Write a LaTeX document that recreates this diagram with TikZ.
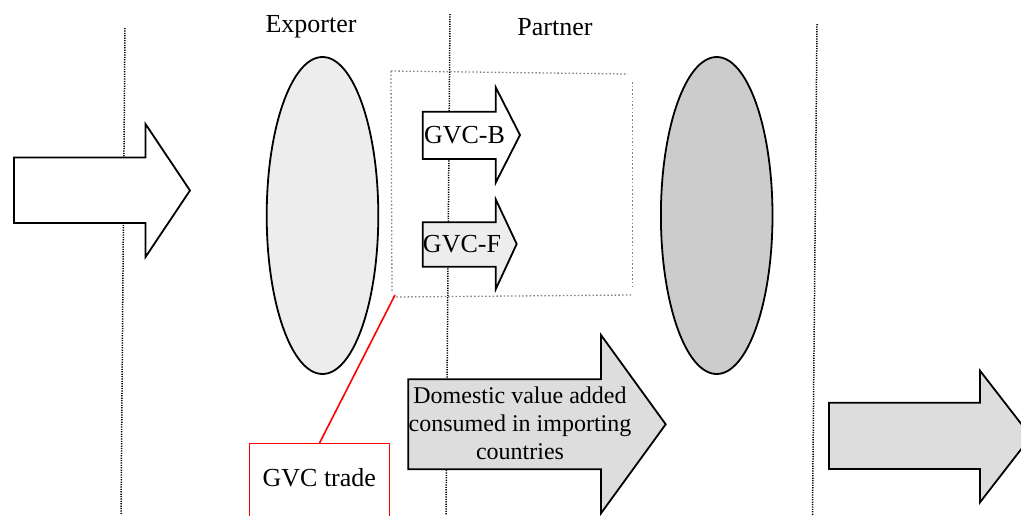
\documentclass[tikz,border=0pt]{standalone}
\usepackage{fontspec}
\setmainfont{Liberation Serif}
\usetikzlibrary{shapes.geometric}
\tikzset{
  sep/.style={line width=1.5pt, dash pattern=on 1.2pt off 1.2pt, black},
  arrowshape/.style={draw=black, line width=1.8pt, line join=miter},
  blob/.style={ellipse, draw=black, line width=1.8pt, inner sep=0pt, minimum width=111.6pt, minimum height=317pt},
  lbl/.style={font=\fontsize{26}{30}\selectfont, inner sep=0pt},
  small/.style={font=\fontsize{24}{28}\selectfont, inner sep=0pt, align=center},
  graybox/.style={gray, line width=1.3pt, dash pattern=on 1.5pt off 2.2pt},
  redframe/.style={draw=red, line width=1.6pt},
}
\definecolor{fillA}{HTML}{EDEDED}
\definecolor{fillB}{HTML}{CCCCCC}
\definecolor{fillC}{HTML}{DDDDDD}
\begin{document}
\begin{tikzpicture}[x=1pt,y=-1pt]
\useasboundingbox (0,0) rectangle (1021,515);
% separators
\draw[sep] (125,28) -- (121,515);
\draw[sep] (450,14) -- (446,515);
\draw[sep] (817,24) -- (812.5,515);
% labels
\node[lbl] (exporter) at (311,27) {Exporter};
\node[lbl] (partner) at (555,27) {Partner};
% left arrow
\draw[arrowshape, fill=white] (14,157.5) -- (145.5,157.5) -- (145.5,124) -- (190,190.5) -- (145.5,257) -- (145.5,223) -- (14,223) -- cycle;
% ellipses
\node[blob, fill=fillA] (exp) at (322.5,215.5) {};
\node[blob, fill=fillB] (par) at (716.7,215.5) {};
% dotted GVC box
\draw[graybox] (391,71) -- (628,74);
\draw[graybox] (632.5,82) -- (632.5,288);
\draw[graybox] (631,295) -- (393,297);
\draw[graybox] (391,71) -- (392,293);
\coordinate (boxcorner) at (395,295);
% GVC-B arrow
\draw[arrowshape, fill=white] (422.7,111.7) -- (495.7,111.7) -- (495.7,87.3) -- (520,135) -- (495.7,182.7) -- (495.7,159) -- (422.7,159) -- cycle;
\node[lbl] (gvcb) at (464.5,135) {GVC-B};
% GVC-F arrow
\draw[arrowshape, fill=fillA] (422.7,222.3) -- (495.7,222.3) -- (495.7,199.3) -- (516.7,244) -- (495.7,289.3) -- (495.7,266.7) -- (422.7,266.7) -- cycle;
\node[lbl] (gvcf) at (462,244) {GVC-F};
% domestic arrow
\draw[arrowshape, fill=fillC] (408.3,379.3) -- (601,379.3) -- (601,335) -- (665.7,424.3) -- (601,513.3) -- (601,469.3) -- (408.3,469.3) -- cycle;
\node[small] (dva) at (520,423) {Domestic value added\\consumed in importing\\countries};
% right arrow
\draw[arrowshape, fill=fillC] (829,402.7) -- (980,402.7) -- (980,370.7) -- (1031,436.5) -- (980,502.3) -- (980,469) -- (829,469) -- cycle;
% GVC trade box
\node[lbl] (gvct) at (319.3,478) {GVC trade};
\coordinate (gvctop) at (319.3,443.5);
\coordinate (gvcbl) at (249.5,520);
\coordinate (gvcbr) at (389.5,520);
\draw[redframe] (gvcbl) |- (gvctop) -| (gvcbr);
\draw[redframe] (gvctop) -- (boxcorner);
\end{tikzpicture}
\end{document}
